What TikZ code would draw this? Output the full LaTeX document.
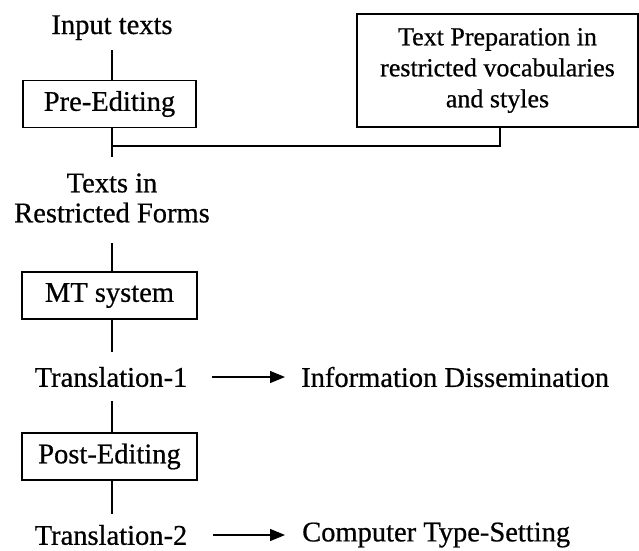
\documentclass[tikz,border=0pt]{standalone}
\usepackage{fontspec}
\setmainfont{Liberation Serif}[UprightFeatures={FakeBold=0.6}]
\usetikzlibrary{arrows.meta,calc}
\begin{document}
\begin{tikzpicture}[x=1pt,y=1pt,
  font=\fontsize{28.5}{30}\selectfont,
  procbox/.style={draw,line width=1.5pt,minimum height=47pt,inner sep=0pt},
  label/.style={inner sep=0pt,align=center},
  link/.style={line width=1.3pt},
  flow/.style={line width=1.3pt,-{Triangle[length=15pt,width=12pt]}}]
\useasboundingbox (0,0) rectangle (639,-550);

% main column
\node[label,anchor=base] (input) at (112,-34) {Input texts};
\node[procbox,minimum width=173pt] (pre) at (109.5,-104) {Pre-Editing};
\node[procbox,minimum width=281pt,minimum height=113pt,align=center,
      font=\fontsize{26}{31}\selectfont] (prep) at (497.5,-70.5)
      {Text Preparation in\\restricted vocabularies\\and styles};
\node[label] (restr) at (112,-198) {Texts in\\Restricted Forms};
\node[procbox,minimum width=175pt] (mt) at (109.5,-295.5) {MT system};
\node[label] (tr1) at (111,-377) {Translation-1};
\node[procbox,minimum width=175pt] (post) at (109.5,-456.5) {Post-Editing};
\node[label] (tr2) at (111,-535) {Translation-2};

% outputs
\node[label,anchor=west] (info) at (301,-377) {Information Dissemination};
\node[label,anchor=west] (cts) at (302,-535) {Computer Type-Setting};

% joint of the preparation branch
\coordinate (j) at (112,-146);

% vertical links
\draw[link] (input.south -| 112,0) ++(0,-10) coordinate (i0) -- (i0 |- pre.north);
\draw[link] (pre.south -| j) -- ($(j)+(0,-11)$);
\draw[link] (j) -| (prep.south -| 500,0);
\draw[link] (112,-243) -- (mt.north -| 112,0);
\draw[link] (mt.south -| 112,0) -- (112,-352);
\draw[link] (112,-401) -- (post.north -| 112,0);
\draw[link] (post.south -| 112,0) -- (112,-514);

% output arrows
\draw[flow] ($(info.west)+(-89,0)$) -- ($(info.west)+(-16,0)$);
\draw[flow] ($(cts.west)+(-89,0)$) -- ($(cts.west)+(-17,0)$);
\end{tikzpicture}
\end{document}
